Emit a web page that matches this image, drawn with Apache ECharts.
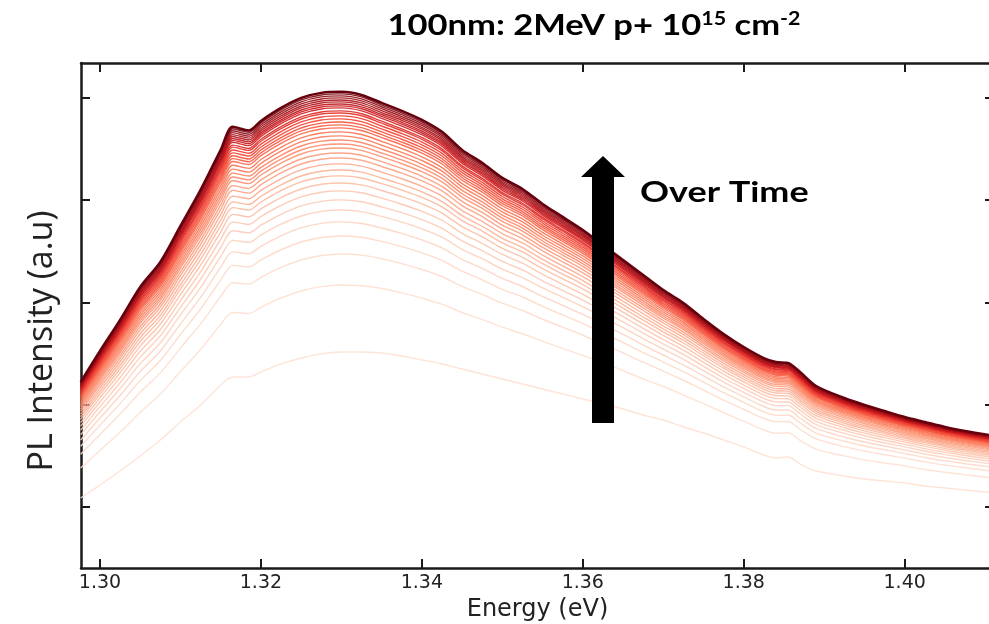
<!DOCTYPE html>
<html>
<head>
<meta charset="utf-8">
<script src="https://cdn.jsdelivr.net/npm/echarts@6/dist/echarts.min.js"></script>
<style>
html,body{margin:0;padding:0;background:#fff;}
#chart{width:989px;height:624px;}
</style>
</head>
<body>
<div id="chart"></div>
<script>
// Energy grid (eV)
var energy = [1.2976,1.300,1.3025,1.305,1.3075,1.310,1.3125,1.315,1.3165,1.3185,1.320,1.3225,1.325,1.3275,1.330,1.3325,1.335,1.3375,1.340,1.3425,1.345,1.3475,1.350,1.3525,1.355,1.3575,1.360,1.3625,1.365,1.3675,1.370,1.3725,1.375,1.3775,1.380,1.3825,1.384,1.3855,1.387,1.389,1.3925,1.395,1.3975,1.400,1.4025,1.405,1.4075,1.4111];
// Earliest (lowest) spectrum, a.u.
var lowestCurve = [1088,1215,1352,1499,1655,1831,1997,2193,2271,2271,2320,2398,2456,2496,2515,2515,2505,2476,2437,2398,2349,2300,2251,2202,2153,2105,2056,2007,1958,1899,1850,1782,1723,1655,1587,1508,1479,1489,1420,1352,1303,1274,1254,1235,1205,1186,1166,1140];
// Latest (highest) spectrum, a.u.
var highestCurve = [2222,2525,2828,3151,3395,3747,4099,4490,4715,4680,4773,4900,4998,5047,5057,5027,4949,4871,4783,4666,4490,4363,4216,4108,3962,3835,3708,3561,3414,3268,3121,2994,2838,2691,2564,2456,2417,2408,2320,2183,2065,1997,1938,1880,1831,1782,1743,1695];
// Peak intensity (at 1.330 eV) of each spectrum, earliest to latest
var peakLevels = [2515,3170,3473,3649,3786,3903,4001,4089,4167,4236,4294,4353,4411,4460,4509,4548,4587,4627,4666,4705,4734,4763,4793,4822,4851,4871,4900,4920,4939,4959,4978,4998,5018,5037,5057];
var xTicks = [1.30,1.32,1.34,1.36,1.38,1.40];
var yTicks = [1000,2000,3000,4000,5000];

var peakIdx = energy.indexOf(1.330);
var lowPeak = lowestCurve[peakIdx], highPeak = highestCurve[peakIdx];

// matplotlib "Reds" colormap
var reds = [[0,[255,245,240]],[0.125,[254,224,210]],[0.25,[252,187,161]],[0.375,[252,146,114]],[0.5,[251,106,74]],[0.625,[239,59,44]],[0.75,[203,24,29]],[0.875,[165,15,21]],[1,[103,0,13]]];
function cmap(t){
  for(var i=1;i<reds.length;i++){
    if(t<=reds[i][0]){
      var a=reds[i-1],b=reds[i],f=(t-a[0])/(b[0]-a[0]);
      var c=a[1].map(function(v,j){return Math.round(v+(b[1][j]-v)*f);});
      return 'rgb('+c.join(',')+')';
    }
  }
  return 'rgb(103,0,13)';
}

var N = peakLevels.length;
var series = peakLevels.map(function(p,k){
  var t = (p-lowPeak)/(highPeak-lowPeak);
  var data = energy.map(function(e,i){ return [e, lowestCurve[i] + t*(highestCurve[i]-lowestCurve[i])]; });
  var c = 0.12 + 0.88*Math.pow(k/(N-1),1.4);
  return {
    type:'line', data:data, showSymbol:false, silent:true, smooth:0.3,
    lineStyle:{color:cmap(c), width:(k===N-1?2.5:1.4), opacity:(k===N-1?1:0.9)},
    z: 2+k
  };
});

var axisCommon = {
  axisLine:{show:true,lineStyle:{color:'#1a1a1a',width:2.5}},
  axisTick:{show:true,inside:true,length:9,lineStyle:{color:'#1a1a1a',width:2}},
  splitLine:{show:false}
};

var chart = echarts.init(document.getElementById('chart'));
chart.setOption({
  animation:false,
  backgroundColor:'#fff',
  grid:{left:81,right:-5,top:63,bottom:56,containLabel:false,outerBoundsMode:'none'},
  xAxis:[
    Object.assign({type:'value',min:1.29764,max:1.4111,position:'bottom',
      name:'Energy (eV)',nameLocation:'middle',nameGap:23,
      nameTextStyle:{fontFamily:'DejaVu Sans',fontSize:24,color:'#222'},
      axisLabel:{show:true,customValues:xTicks,margin:6,fontFamily:'DejaVu Sans',fontSize:19,color:'#222',formatter:function(v){return v.toFixed(2);}}
    },axisCommon,{axisTick:Object.assign({},axisCommon.axisTick,{customValues:xTicks})}),
    Object.assign({type:'value',min:1.29764,max:1.4111,position:'top',
      axisLabel:{show:false}
    },axisCommon,{axisTick:Object.assign({},axisCommon.axisTick,{customValues:xTicks})})
  ],
  yAxis:[
    Object.assign({type:'value',min:404,max:5339,position:'left',
      name:'PL Intensity (a.u)',nameLocation:'middle',nameGap:22,
      nameTextStyle:{fontFamily:'Open Sans',fontSize:34,color:'#222',padding:[0,51,0,0]},
      axisLabel:{show:false}
    },axisCommon,{axisTick:Object.assign({},axisCommon.axisTick,{customValues:yTicks})}),
    Object.assign({type:'value',min:404,max:5339,position:'right',
      axisLabel:{show:false}
    },axisCommon,{axisTick:Object.assign({},axisCommon.axisTick,{customValues:yTicks})})
  ],
  series:series,
  graphic:[
    {type:'text',z:100,x:594,y:26,scaleX:1.19,
      style:{text:'100nm: 2MeV p+ 10{sup|15} cm{sup|-2}',align:'center',verticalAlign:'middle',
        fontFamily:'Lato',fontWeight:'bold',fontSize:29,fill:'#000',
        rich:{sup:{fontFamily:'Lato',fontWeight:'bold',fontSize:18,fill:'#000',verticalAlign:'top',padding:[0,0,14,0]}}}},
    {type:'polygon',z:100,shape:{points:[[592,423],[614,423],[614,177],[625,177],[603,156],[581,177],[592,177]]},style:{fill:'#000'}},
    {type:'text',z:100,x:640,y:193,scaleX:1.24,style:{text:'Over Time',align:'left',verticalAlign:'middle',fontFamily:'Lato',fontWeight:'bold',fontSize:29,fill:'#000'}}
  ]
});
</script>
</body>
</html>
